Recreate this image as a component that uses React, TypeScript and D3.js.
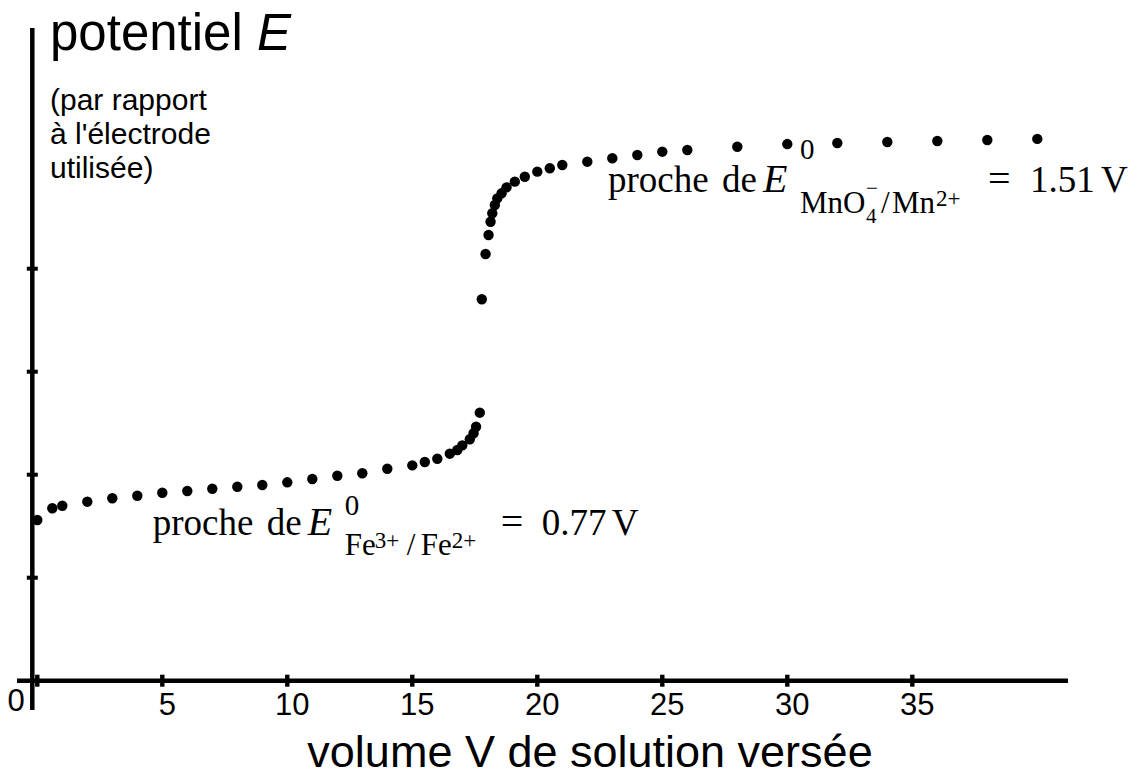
import React, { useEffect, useRef } from 'react';
import * as d3 from 'd3';

// volume V versé (mL)
const volumes = [
  0, 0.6, 1, 2, 3, 4, 5, 6, 7, 8, 9, 10, 11, 12, 13, 14, 15, 15.5, 16, 16.5, 16.8, 17, 17.3, 17.45, 17.55, 17.7,
  17.78, 17.93, 18.05, 18.13, 18.2, 18.3, 18.4, 18.57, 18.77, 19.1, 19.5, 20, 20.5, 21, 22, 23, 24, 25, 26,
  28, 30, 32, 34, 36, 38, 40,
];
// potentiel E, en graduations de l'axe vertical
const potentials = [
  1.56, 1.674, 1.699, 1.738, 1.771, 1.796, 1.825, 1.842, 1.864, 1.883, 1.9, 1.926, 1.958, 1.99, 2.014, 2.058,
  2.091, 2.123, 2.155, 2.204, 2.24, 2.285, 2.344, 2.402, 2.466, 2.602,
  3.703, 4.143, 4.327, 4.456, 4.538, 4.618, 4.683, 4.732, 4.79, 4.845, 4.893, 4.942, 4.975, 5.007, 5.039,
  5.072, 5.104, 5.136, 5.152, 5.184, 5.21, 5.22, 5.23, 5.24, 5.25, 5.26,
];

const xTicks = [0, 5, 10, 15, 20, 25, 30, 35];
const yTicks = [1, 2, 3, 4];

const SANS = "'Liberation Sans', Arial, Helvetica, sans-serif";
const SERIF = "'Liberation Serif', 'Times New Roman', serif";

type Piece = { t: string; dx: number; dy: number; size: number; italic?: boolean };

// annotation E0 Fe3+/Fe2+
const feLabel: Piece[] = [
  { t: 'proche', dx: 0, dy: 0, size: 37 },
  { t: 'de', dx: 114, dy: 0, size: 37 },
  { t: 'E', dx: 155, dy: 0, size: 40, italic: true },
  { t: '0', dx: 192, dy: -20, size: 29 },
  { t: 'Fe', dx: 192, dy: 20, size: 31 },
  { t: '3+', dx: 222, dy: 13, size: 23 },
  { t: '/', dx: 254, dy: 20, size: 31 },
  { t: 'Fe', dx: 268, dy: 20, size: 31 },
  { t: '2+', dx: 299, dy: 13, size: 23 },
  { t: '=', dx: 348, dy: 0, size: 40 },
  { t: '0.77', dx: 389, dy: 0, size: 37 },
  { t: 'V', dx: 459, dy: 0, size: 37 },
];

// annotation E0 MnO4-/Mn2+
const mnLabel: Piece[] = [
  { t: 'proche', dx: 0, dy: 0, size: 37 },
  { t: 'de', dx: 114, dy: 0, size: 37 },
  { t: 'E', dx: 155, dy: 0, size: 40, italic: true },
  { t: '0', dx: 192, dy: -33, size: 29 },
  { t: 'MnO', dx: 192, dy: 21, size: 31 },
  { t: '4', dx: 258, dy: 31, size: 21 },
  { t: '−', dx: 258, dy: 3, size: 21 },
  { t: '/', dx: 273, dy: 21, size: 31 },
  { t: 'Mn', dx: 284, dy: 21, size: 31 },
  { t: '2+', dx: 328, dy: 14, size: 23 },
  { t: '=', dx: 380, dy: 0, size: 40 },
  { t: '1.51', dx: 422, dy: 0, size: 37 },
  { t: 'V', dx: 493, dy: 0, size: 37 },
];

export default function App() {
  const svgRef = useRef<SVGSVGElement>(null);

  useEffect(() => {
    document.body.style.margin = '0';
    if (!svgRef.current) return;
    const svg = d3.select(svgRef.current);
    svg.selectAll('*').remove();

    const x = d3.scaleLinear().domain([0, 40]).range([37.3, 1037.3]);
    const y = d3.scaleLinear().domain([0, 4]).range([680.7, 268.7]);
    const axisX = x(0) - 5;

    // axes
    svg.append('line')
      .attr('x1', axisX).attr('x2', axisX)
      .attr('y1', 28).attr('y2', 710)
      .attr('stroke', '#000').attr('stroke-width', 4.5);
    svg.append('line')
      .attr('x1', 17).attr('x2', 1068)
      .attr('y1', y(0)).attr('y2', y(0))
      .attr('stroke', '#000').attr('stroke-width', 4.5);

    // graduations
    svg.selectAll('.xtick').data(xTicks).enter().append('rect')
      .attr('x', d => x(d) - 2.2).attr('y', y(0) - 6)
      .attr('width', 4.4).attr('height', 12).attr('fill', '#000');
    svg.selectAll('.ytick').data(yTicks).enter().append('rect')
      .attr('x', axisX - 5.5).attr('y', d => y(d) - 2)
      .attr('width', 11).attr('height', 4).attr('fill', '#000');

    svg.selectAll('.xlabel').data(xTicks.filter(d => d > 0)).enter().append('text')
      .attr('x', d => x(d) + 5).attr('y', 715)
      .attr('text-anchor', 'middle')
      .attr('font-family', SANS).attr('font-size', 31)
      .text(d => d);
    svg.append('text')
      .attr('x', 16).attr('y', 711)
      .attr('text-anchor', 'middle')
      .attr('font-family', SANS).attr('font-size', 31)
      .text('0');

    // titres
    const yTitle = svg.append('text')
      .attr('x', 50).attr('y', 50)
      .attr('font-family', SANS).attr('font-size', 51);
    yTitle.append('tspan').text('potentiel ');
    yTitle.append('tspan').attr('font-style', 'italic').text('E');

    ['(par rapport', "à l'électrode", 'utilisée)'].forEach((s, i) => {
      svg.append('text')
        .attr('x', 50).attr('y', 110 + i * 34)
        .attr('font-family', SANS).attr('font-size', 30)
        .text(s);
    });

    svg.append('text')
      .attr('x', 590).attr('y', 767)
      .attr('text-anchor', 'middle')
      .attr('font-family', SANS).attr('font-size', 45)
      .text('volume V de solution versée');

    // points de mesure
    svg.selectAll('.pt').data(volumes).enter().append('circle')
      .attr('cx', d => x(d))
      .attr('cy', (d, i) => y(potentials[i]))
      .attr('r', 5.2)
      .attr('fill', '#000');

    // annotations
    const drawLabel = (pieces: Piece[], x0: number, y0: number) => {
      pieces.forEach(p => {
        svg.append('text')
          .attr('x', x0 + p.dx).attr('y', y0 + p.dy)
          .attr('font-family', SERIF)
          .attr('font-size', p.size)
          .attr('font-style', p.italic ? 'italic' : 'normal')
          .text(p.t);
      });
    };
    drawLabel(feLabel, 152.7, 535);
    drawLabel(mnLabel, 608, 192);
  }, []);

  return (
    <svg ref={svgRef} width={1140} height={776} style={{ display: 'block', background: '#fff' }} />
  );
}
